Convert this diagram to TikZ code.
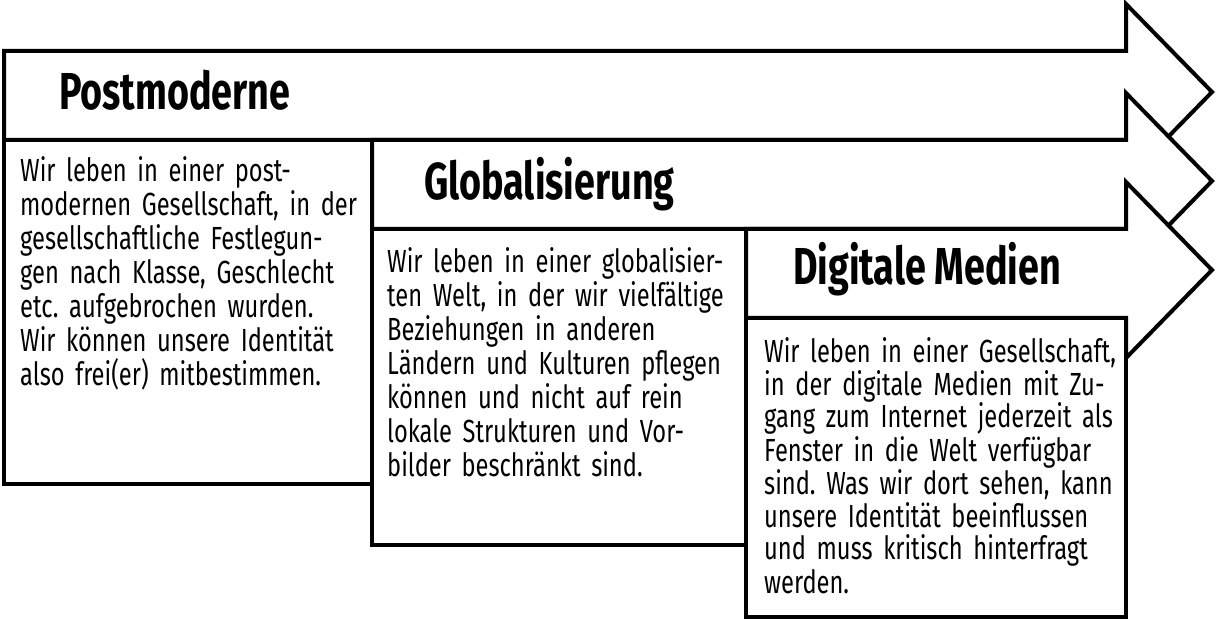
\documentclass[tikz,border=0pt]{standalone}
\usepackage{fontspec}
\setmainfont{Fira Sans}[FakeStretch=0.74]
\newfontfamily\headfont{Fira Sans}[FakeStretch=0.725]
\frenchspacing
\def\myheadx{1126}
\def\mytipx{1212}
\tikzset{
my arrow/.style={draw,fill=white,line width=4pt,line join=miter},
my box/.style={draw,fill=white,line width=4pt,rectangle,outer sep=0pt,inner sep=0pt,anchor=north west},
my title/.style={anchor=base west,inner sep=0pt,font=\headfont\bfseries\fontsize{52}{60}\selectfont},
my text/.style={anchor=base west,inner sep=0pt,align=left,text width=420pt,font=\fontsize{32}{34}\selectfont},
}
% #1 = left end of the shaft, #2 = top of the shaft
\newcommand{\myarrow}[2]{%
  \draw[my arrow] (#1,#2) -- (\myheadx,#2) -- (\myheadx,#2-47) -- (\mytipx,#2+41)
    -- (\myheadx,#2+129) -- (\myheadx,#2+89) -- (#1,#2+89) -- cycle;}
\begin{document}
\begin{tikzpicture}[x=1pt,y=-1pt]
\useasboundingbox (0,0) rectangle (1218,620);
\myarrow{4}{51}
\node[my box,minimum width=368pt,minimum height=344pt] (box1) at (4,140) {};
\myarrow{372}{140}
\node[my box,minimum width=374pt,minimum height=316pt] (box2) at (372,229) {};
\myarrow{746}{229}
\node[my box,minimum width=380pt,minimum height=299pt] (box3) at (746,318) {};
% titles
\node[my title] (post) at (59,110) {Postmoderne};
\node[my title] (glob) at (424,200) {Globalisierung};
\node[my title] (digi) at (793,285) {Digitale Medien};
% texts
\node[my text] (text1) at ([xshift=16pt,yshift=-42pt]box1.north west) {Wir leben in einer post-\\
modernen Gesellschaft, in der\\
gesellschaftliche Festlegun-\\
gen nach Klasse, Geschlecht\\
etc. aufgebrochen wurden.\\
Wir können unsere Identität\\
also frei(er) mitbestimmen.};
\node[my text] (text2) at ([xshift=15pt,yshift=-44pt]box2.north west) {Wir leben in einer globalisier-\\
ten Welt, in der wir vielfältige\\
Beziehungen in anderen\\
Ländern und Kulturen pflegen\\
können und nicht auf rein\\
lokale Strukturen und Vor-\\
bilder beschränkt sind.};
\node[my text,font=\fontsize{32}{33}\selectfont] (text3) at ([xshift=18pt,yshift=-44pt]box3.north west) {Wir leben in einer Gesellschaft,\\
in der digitale Medien mit Zu-\\
gang zum Internet jederzeit als\\
Fenster in die Welt verfügbar\\
sind. Was wir dort sehen, kann\\
unsere Identität beeinflussen\\
und muss kritisch hinterfragt\\
werden.};
\end{tikzpicture}
\end{document}
